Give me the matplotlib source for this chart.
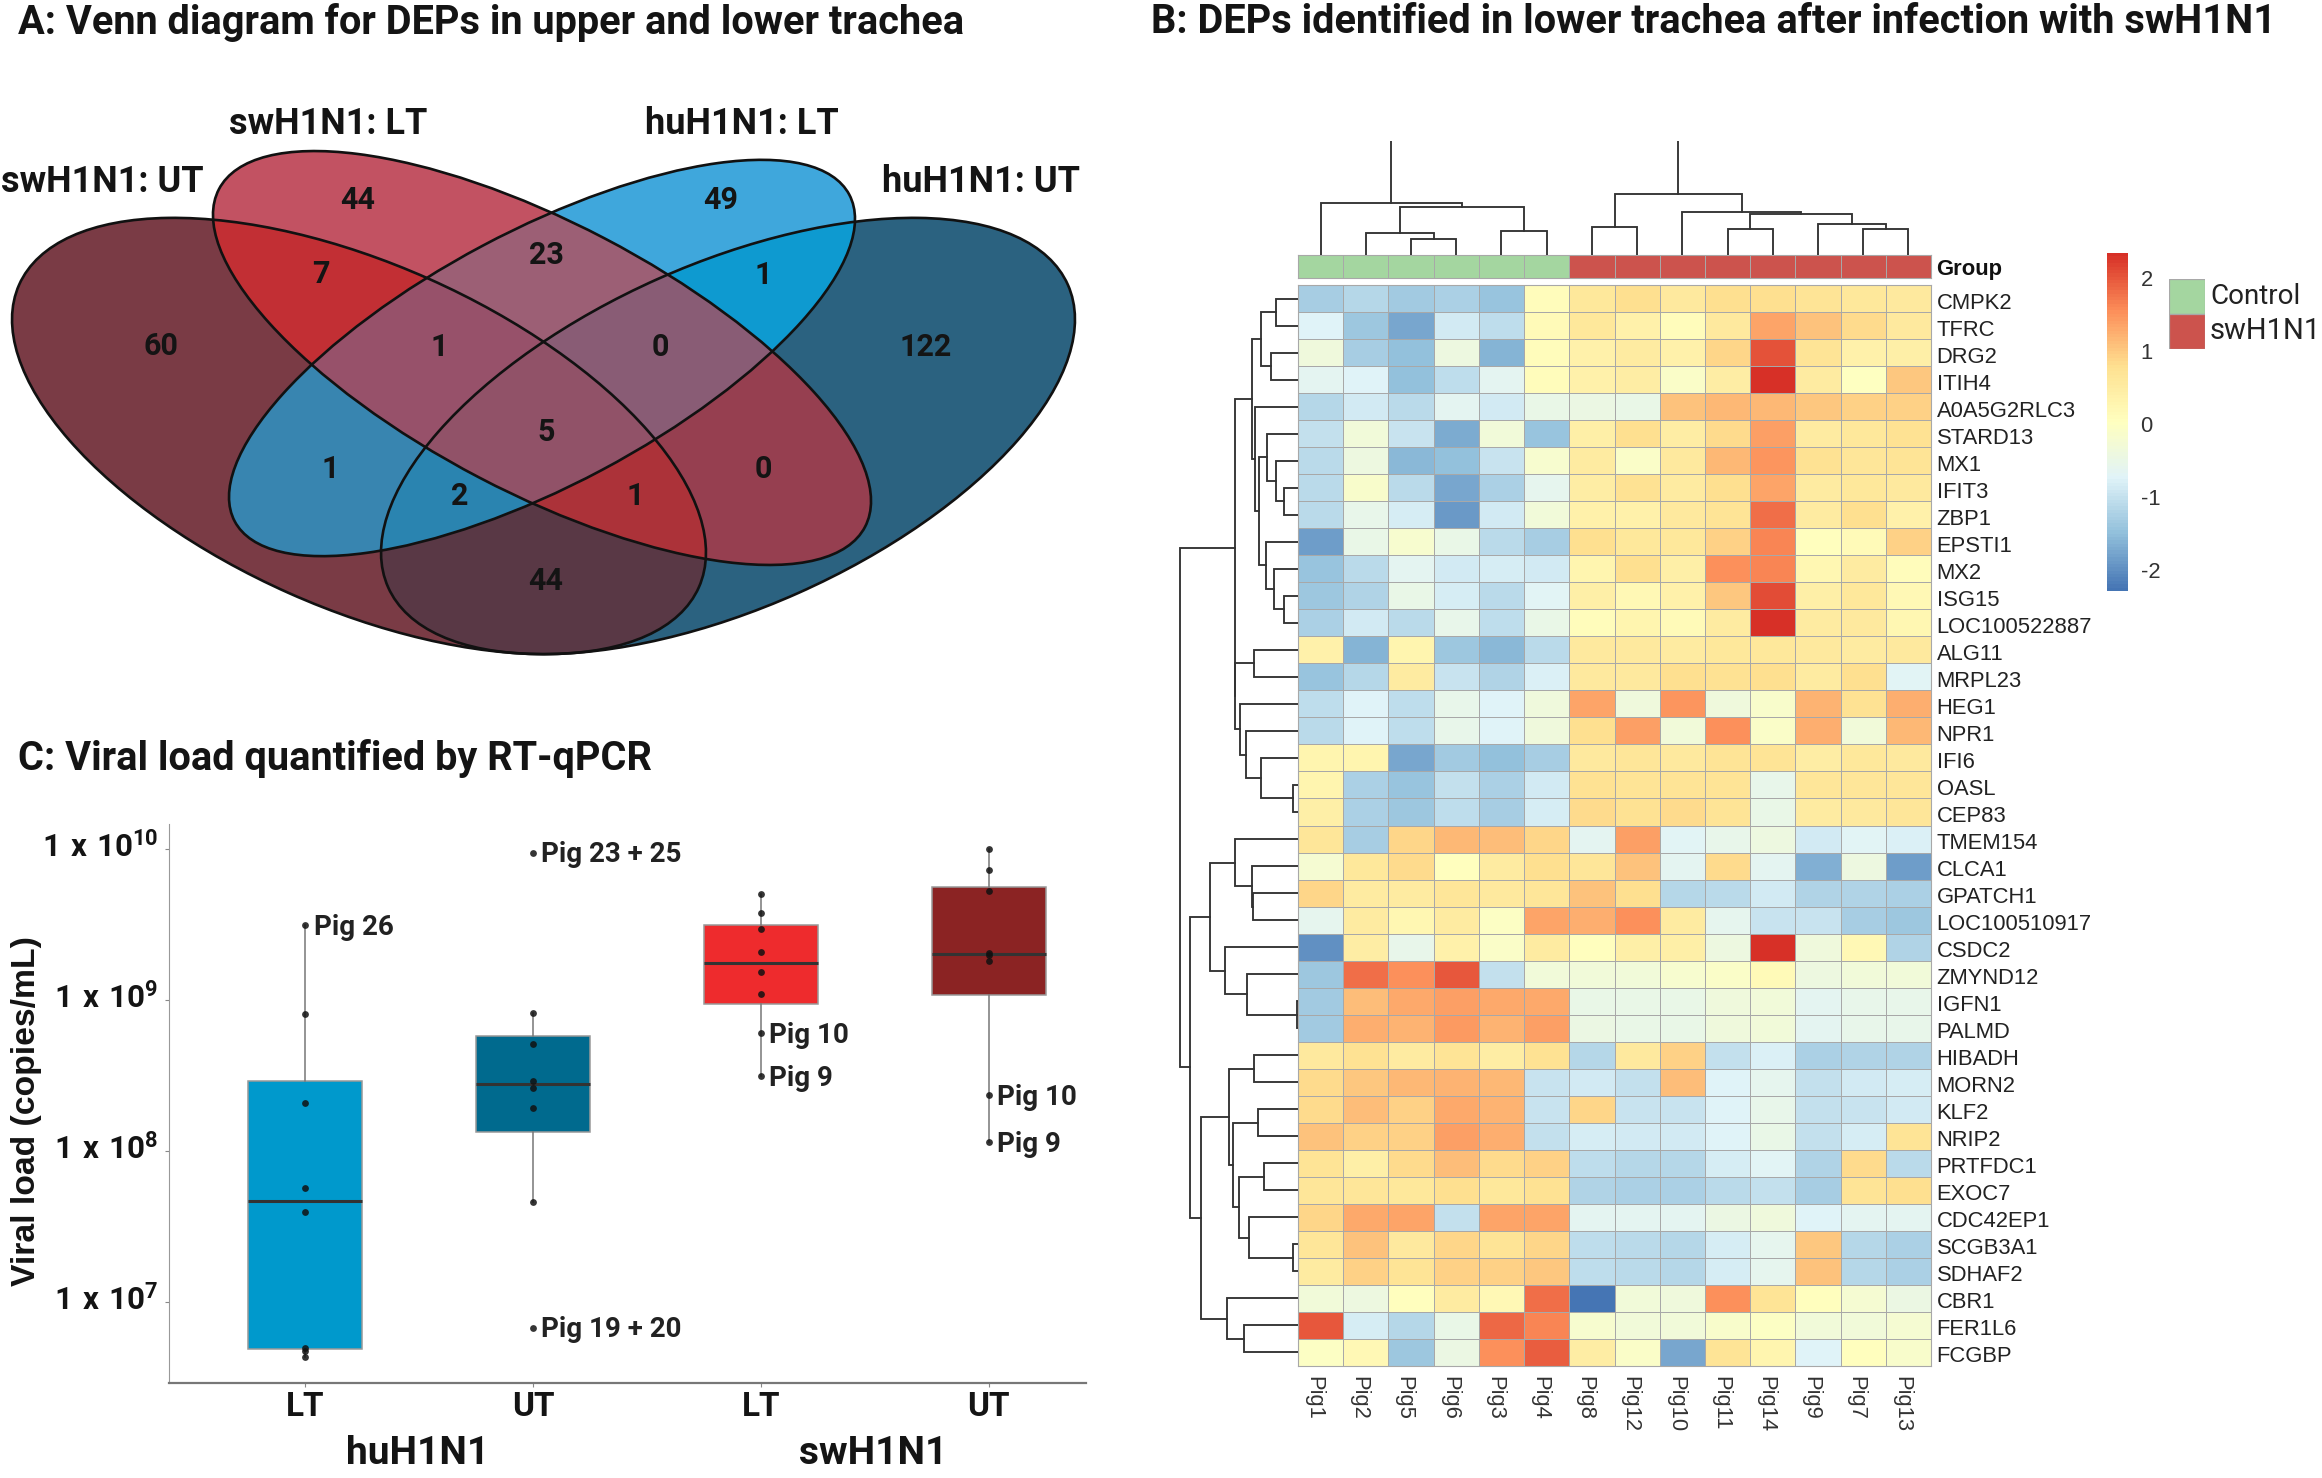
import numpy as np
import matplotlib
matplotlib.use('Agg')
import matplotlib.pyplot as plt
from matplotlib.colors import LinearSegmentedColormap, to_rgb
from matplotlib.patches import Ellipse, Rectangle
from matplotlib.transforms import ScaledTranslation

W, H = 2322, 1478
plt.rcParams['font.family'] = ['Roboto', 'DejaVu Sans']
plt.rcParams['mathtext.default'] = 'regular'

# ---- panel A data
set_names = ['swH1N1: UT', 'swH1N1: LT', 'huH1N1: LT', 'huH1N1: UT']
# membership (swUT, swLT, huLT, huUT) -> count
venn_counts = {
    (1, 0, 0, 0): 60, (0, 1, 0, 0): 44, (0, 0, 1, 0): 49, (0, 0, 0, 1): 122,
    (1, 1, 0, 0): 7, (0, 1, 1, 0): 23, (0, 0, 1, 1): 1, (1, 1, 1, 0): 1,
    (0, 1, 1, 1): 0, (1, 1, 1, 1): 5, (1, 0, 1, 0): 1, (0, 1, 0, 1): 0,
    (1, 0, 1, 1): 2, (1, 1, 0, 1): 1, (1, 0, 0, 1): 44,
}
venn_colors = {
    (1, 0, 0, 0): '#7a3b45', (0, 1, 0, 0): '#c25262', (0, 0, 1, 0): '#3fa7dc',
    (0, 0, 0, 1): '#2b6280', (1, 1, 0, 0): '#c22f34', (0, 1, 1, 0): '#9c5f75',
    (0, 0, 1, 1): '#0e9ad0', (1, 1, 1, 0): '#97516a', (0, 1, 1, 1): '#895c75',
    (1, 1, 1, 1): '#915268', (1, 0, 1, 0): '#3885b0', (0, 1, 0, 1): '#963f50',
    (1, 0, 1, 1): '#2a84b0', (1, 1, 0, 1): '#ac3239', (1, 0, 0, 1): '#593845',
}
venn_label_pos = {
    (1, 0, 0, 0): (161, 346), (0, 1, 0, 0): (358, 200), (0, 0, 1, 0): (721, 200),
    (0, 0, 0, 1): (926, 347), (1, 1, 0, 0): (321, 274), (0, 1, 1, 0): (546, 255),
    (0, 0, 1, 1): (763, 275), (1, 1, 1, 0): (439, 347), (0, 1, 1, 1): (660, 347),
    (1, 1, 1, 1): (546, 432), (1, 0, 1, 0): (330, 469), (0, 1, 0, 1): (763, 469),
    (1, 0, 1, 1): (460, 496), (1, 1, 0, 1): (635, 496), (1, 0, 0, 1): (546, 581),
}

# ---- panel B data
genes = ['CMPK2', 'TFRC', 'DRG2', 'ITIH4', 'A0A5G2RLC3', 'STARD13', 'MX1', 'IFIT3', 'ZBP1', 'EPSTI1',
         'MX2', 'ISG15', 'LOC100522887', 'ALG11', 'MRPL23', 'HEG1', 'NPR1', 'IFI6', 'OASL', 'CEP83',
         'TMEM154', 'CLCA1', 'GPATCH1', 'LOC100510917', 'CSDC2', 'ZMYND12', 'IGFN1', 'PALMD', 'HIBADH', 'MORN2',
         'KLF2', 'NRIP2', 'PRTFDC1', 'EXOC7', 'CDC42EP1', 'SCGB3A1', 'SDHAF2', 'CBR1', 'FER1L6', 'FCGBP']
pigs = ['Pig1', 'Pig2', 'Pig5', 'Pig6', 'Pig3', 'Pig4', 'Pig8', 'Pig12', 'Pig10', 'Pig11', 'Pig14', 'Pig9', 'Pig7', 'Pig13']
n_control = 6
heat = [
    [-1.3, -1.15, -1.35, -1.25, -1.45, 0.1, 0.6, 0.8, 0.55, 0.8, 0.8, 0.7, 0.6, 0.55],
    [-0.75, -1.4, -1.75, -0.9, -1.05, 0.12, 0.6, 0.35, 0.08, 0.55, 1.35, 1.05, 0.85, 0.55],
    [-0.35, -1.3, -1.5, -0.4, -1.6, 0.08, 0.35, 0.5, 0.35, 0.9, 2.05, 0.7, 0.35, 0.4],
    [-0.65, -0.75, -1.5, -1.05, -0.65, 0.08, 0.35, 0.45, -0.1, 0.45, 2.3, 0.5, -0.02, 1.0],
    [-1.15, -0.9, -1.1, -0.65, -0.9, -0.5, -0.45, -0.5, 1.05, 1.15, 1.15, 1.0, 0.95, 0.95],
    [-1.0, -0.3, -0.95, -1.7, -0.3, -1.45, 0.4, 0.8, 0.45, 0.85, 1.4, 0.5, 0.6, 0.75],
    [-1.1, -0.4, -1.55, -1.5, -0.95, -0.2, 0.5, -0.08, 0.55, 1.15, 1.5, 0.75, 0.65, 0.7],
    [-1.1, -0.15, -1.1, -1.75, -1.25, -0.6, 0.45, 0.75, 0.5, 0.8, 1.35, 0.5, 0.6, 0.55],
    [-1.1, -0.55, -0.85, -1.9, -0.9, -0.3, 0.35, 0.35, 0.55, 0.7, 1.8, 0.5, 0.8, 0.35],
    [-1.85, -0.5, -0.2, -0.5, -1.1, -1.3, 0.8, 0.6, 0.6, 0.95, 1.6, 0.05, 0.15, 0.95],
    [-1.45, -1.1, -0.65, -0.9, -0.85, -0.9, 0.3, 0.8, 0.4, 1.55, 1.6, 0.25, 0.5, 0.1],
    [-1.4, -1.2, -0.5, -0.85, -1.1, -0.7, 0.4, 0.2, 0.35, 1.0, 2.1, 0.4, 0.6, 0.2],
    [-1.25, -0.9, -1.1, -0.55, -1.05, -0.5, 0.1, 0.3, 0.15, 0.5, 2.34, 0.5, 0.55, 0.25],
    [0.35, -1.6, 0.3, -1.4, -1.55, -1.1, 0.55, 0.55, 0.5, 0.6, 0.6, 0.55, 0.5, 0.55],
    [-1.45, -1.15, 0.5, -0.95, -1.2, -0.8, 0.55, 0.55, 0.8, 0.75, 0.8, 0.5, 0.8, -0.7],
    [-1.05, -0.75, -1.05, -0.55, -0.75, -0.35, 1.35, -0.35, 1.5, -0.35, -0.15, 1.2, 0.75, 1.25],
    [-1.1, -0.75, -1.05, -0.55, -0.75, -0.35, 0.8, 1.4, -0.3, 1.55, -0.1, 1.25, -0.3, 1.15],
    [0.3, 0.3, -1.75, -1.35, -1.5, -1.3, 0.55, 0.65, 0.55, 0.7, 0.7, 0.45, 0.6, 0.55],
    [0.3, -1.25, -1.45, -1.0, -1.25, -0.9, 0.75, 0.7, 0.7, 0.7, -0.55, 0.65, 0.65, 0.65],
    [0.4, -1.25, -1.4, -1.05, -1.3, -0.85, 0.85, 0.75, 0.85, 0.7, -0.5, 0.5, 0.55, 0.65],
    [0.65, -1.3, 0.9, 1.15, 1.1, 0.9, -0.65, 1.4, -0.7, -0.55, -0.4, -0.9, -0.7, -0.8],
    [-0.25, 0.6, 0.85, 0.05, 0.5, 0.8, 0.65, 1.05, -0.65, 0.85, -0.65, -1.65, -0.4, -1.85],
    [0.9, 0.5, 0.5, 0.65, 0.55, 0.65, 1.05, 0.8, -1.15, -1.1, -0.9, -1.2, -1.2, -1.25],
    [-0.6, 0.5, 0.25, 0.5, -0.05, 1.35, 1.25, 1.55, 0.5, -0.6, -0.95, -0.95, -1.3, -1.4],
    [-2.0, 0.45, -0.55, 0.35, -0.1, 0.5, 0.05, 0.4, 0.4, -0.4, 2.34, -0.35, 0.2, -1.2],
    [-1.4, 1.8, 1.55, 2.0, -1.0, -0.3, -0.3, -0.3, -0.2, -0.1, 0.15, -0.4, -0.3, -0.3],
    [-1.35, 1.1, 1.3, 1.4, 1.3, 1.3, -0.5, -0.5, -0.5, -0.35, -0.3, -0.65, -0.55, -0.55],
    [-1.35, 1.25, 1.2, 1.45, 1.2, 1.4, -0.45, -0.5, -0.5, -0.35, -0.3, -0.65, -0.55, -0.55],
    [0.55, 0.75, 0.5, 0.7, 0.45, 0.75, -1.15, 0.55, 0.95, -1.0, -0.8, -1.25, -1.2, -1.2],
    [0.85, 1.0, 1.15, 1.2, 1.15, -0.95, -0.9, -1.0, 1.1, -0.75, -0.6, -1.0, -0.9, -0.85],
    [0.85, 1.1, 0.95, 1.3, 1.2, -0.95, 0.9, -0.95, -0.95, -0.75, -0.55, -1.0, -0.95, -0.9],
    [1.05, 0.95, 0.95, 1.4, 1.25, -1.0, -0.85, -0.9, -0.9, -0.75, -0.5, -1.0, -0.85, 0.7],
    [0.7, 0.4, 0.85, 1.1, 0.85, 0.95, -1.05, -1.15, -1.15, -0.85, -0.7, -1.2, 0.85, -1.1],
    [0.65, 0.65, 0.6, 0.8, 0.6, 0.75, -1.2, -1.25, -1.25, -1.1, -1.0, -1.3, 0.7, 0.8],
    [0.9, 1.3, 1.35, -1.0, 1.35, 1.35, -0.65, -0.65, -0.65, -0.45, -0.35, -0.75, -0.65, -0.65],
    [0.65, 1.05, 0.55, 0.9, 0.7, 0.9, -1.05, -1.1, -1.15, -0.85, -0.6, 1.0, -1.15, -1.25],
    [0.5, 0.95, 0.7, 0.95, 0.95, 1.0, -1.05, -1.1, -1.15, -0.85, -0.6, 1.05, -1.15, -1.25],
    [-0.3, -0.4, 0.05, 0.5, 0.2, 1.8, -2.29, -0.3, -0.35, 1.55, 0.7, 0.05, -0.25, -0.45],
    [2.0, -0.85, -1.15, -0.5, 1.85, 1.6, -0.2, -0.3, -0.3, -0.15, -0.05, -0.3, -0.3, -0.25],
    [-0.05, 0.2, -1.4, -0.45, 1.55, 1.95, 0.45, -0.1, -1.75, 0.7, 0.3, -0.75, 0.05, -0.15],
]
# dendrograms as nested (height, left, right), a leaf is a row/column index
col_tree_left = (155, 0, (143, (65, 1, (49, 2, 3)), (73, 4, 5)))
col_tree_right = (183, (85, 6, 7), (130, 8, (122, (77, 9, 10), (93, 11, (77, 12, 13)))))
col_tree_top = 343
row_tree_a = (123,
              (89, (73, (43, 0, 1), (52, 2, 3)),
               (84, 4, (76, (60, 5, (43, 6, (28, 7, 8))), (62, 9, (47, 10, (28, 11, 12)))))),
              (122, (86, 13, 14), (114, 15, (101, 16, (73, 17, (9, 18, 19))))))
row_tree_b = (171,
              (123, 20, (89, 21, (88, 22, 23))),
              (142, 24, (100, 25, (1.5, 26, 27))))
row_tree_c = (189,
              (134, (86, 28, 29), (127, (78, 30, 31), (115, (66, 32, 33), (95, 34, (9, 35, 36))))),
              (139, 37, (105, 38, 39)))
row_tree = (230, row_tree_a, (211, row_tree_b, row_tree_c))

# ---- panel C data (copies/mL)
box_labels = ['LT', 'UT', 'LT', 'UT']
box_colors = ['#0099cc', '#006a8e', '#ee2b2d', '#8b2323']
box_q1 = [4.9e6, 1.34e8, 9.46e8, 1.08e9]
box_med = [4.7e7, 2.77e8, 1.78e9, 2.02e9]
box_q3 = [2.93e8, 5.78e8, 3.15e9, 5.62e9]
box_lo = [4.3e6, 4.6e7, 3.13e8, 1.15e8]
box_hi = [3.15e9, 8.3e8, 5.08e9, 1.0e10]
points = [
    [3.15e9, 8.1e8, 2.1e8, 5.67e7, 3.98e7, 4.99e6, 4.76e6, 4.3e6],
    [9.5e9, 8.3e8, 5.13e8, 2.91e8, 2.62e8, 1.93e8, 4.6e7, 6.75e6],
    [5.08e9, 3.81e9, 2.98e9, 2.08e9, 1.55e9, 1.1e9, 6.08e8, 3.13e8],
    [1.0e10, 7.35e9, 5.27e9, 2.05e9, 1.99e9, 1.81e9, 2.35e8, 1.15e8],
]
pig_notes = [(0, 3.15e9, 'Pig 26'), (1, 9.5e9, 'Pig 23 + 25'), (1, 6.75e6, 'Pig 19 + 20'),
             (2, 6.08e8, 'Pig 10'), (2, 3.13e8, 'Pig 9'), (3, 2.35e8, 'Pig 10'), (3, 1.15e8, 'Pig 9')]
y_ticks = [1e7, 1e8, 1e9, 1e10]
y_tick_labels = ['$1\\ x\\ 10^{7}$', '$1\\ x\\ 10^{8}$', '$1\\ x\\ 10^{9}$', '$1\\ x\\ 10^{10}$']


def px_axes(x0, y0, x1, y1):
    # axes placed by reference pixels, y counted from the top
    return fig.add_axes([x0 / W, 1 - y1 / H, (x1 - x0) / W, (y1 - y0) / H])


def px_text(x, y, s, **kw):
    kw.setdefault('va', 'center')
    return fig.text(x / W, 1 - y / H, s, **kw)


def shift(labels, dx, dy):
    # nudge tick labels by pixels, dy is upward
    off = ScaledTranslation(dx / 100, dy / 100, fig.dpi_scale_trans)
    for t in labels:
        t.set_transform(t.get_transform() + off)


def draw_tree(ax, node, horizontal=False):
    # returns (position along leaves, height) of the node
    if not isinstance(node, tuple):
        return node + 0.5, 0
    h, left, right = node
    p1, h1 = draw_tree(ax, left, horizontal)
    p2, h2 = draw_tree(ax, right, horizontal)
    a, b = [p1, p1, p2, p2], [h1, h, h, h2]
    if horizontal:
        ax.plot(b, a, color='#333333', lw=1.35, solid_joinstyle='miter')
    else:
        ax.plot(a, b, color='#333333', lw=1.35, solid_joinstyle='miter')
    return (p1 + p2) / 2, h


fig = plt.figure(figsize=(W / 100, H / 100), dpi=100)
title_font = dict(fontsize=28.6, fontweight='bold', color='#141414')
px_text(18, 23, 'A: Venn diagram for DEPs in upper and lower trachea', **title_font)
px_text(1151, 22, 'B: DEPs identified in lower trachea after infection with swH1N1', **title_font)
px_text(18, 759, 'C: Viral load quantified by RT-qPCR', **title_font)

# ---- A: venn, regions painted by membership of the four ellipses
ax = px_axes(0, 130, 1100, 680)
ax.set_xlim(0, 1100)
ax.set_ylim(680, 130)
ax.axis('off')
ellipses = [
    Ellipse((359, 436), 744, 344, angle=24),
    Ellipse((542, 358), 729, 270, angle=27.6),
    Ellipse((542, 358), 696, 254, angle=-28),
    Ellipse((728, 436), 744, 344, angle=-24),
]
gx, gy = np.meshgrid(np.arange(0, 1100) + 0.5, np.arange(130, 680) + 0.5)
grid = np.column_stack([gx.ravel(), gy.ravel()])
member = [e.get_path().contains_points(grid, transform=e.get_patch_transform()).reshape(gx.shape) for e in ellipses]
img = np.ones(gx.shape + (3,))
for key, c in venn_colors.items():
    mask = np.ones(gx.shape, dtype=bool)
    for m, k in zip(member, key):
        mask &= (m if k else ~m)
    img[mask] = to_rgb(c)
ax.imshow(img, extent=(0, 1100, 680, 130), aspect='auto', interpolation='bilinear')
for e in ellipses:
    e.set(fill=False, edgecolor='#111111', linewidth=1.9)
    ax.add_patch(e)
for key, n in venn_counts.items():
    x, y = venn_label_pos[key]
    ax.text(x, y, str(n), ha='center', va='center', fontsize=22, fontweight='bold', color='#141414')
for name, (x, y) in zip(set_names, [(102, 182), (328, 124), (742, 124), (981, 182)]):
    px_text(x, y, name, ha='center', fontsize=26, fontweight='bold', color='#141414')

# ---- B: heatmap
hm_left, hm_right, hm_top, hm_bottom = 1298, 1931, 285, 1366
cmap = LinearSegmentedColormap.from_list(
    'rdylbu', ['#4575b4', '#91bfdb', '#e0f3f8', '#ffffbf', '#fee090', '#fc8d59', '#d73027'], N=100)
ax = px_axes(hm_left, hm_top, hm_right, hm_bottom)
mesh = ax.pcolormesh(np.array(heat), cmap=cmap, vmin=-2.29, vmax=2.34, edgecolors='#a8a8a8', linewidth=0.7)
ax.set_xlim(0, len(pigs))
ax.set_ylim(len(genes), 0)
for s in ax.spines.values():
    s.set_color('#a8a8a8')
    s.set_linewidth(0.8)
ax.set_xticks(np.arange(len(pigs)) + 0.5)
ax.set_xticklabels(pigs, rotation=-90, family='Liberation Sans', fontsize=15.8, color='#333333')
ax.set_yticks(np.arange(len(genes)) + 0.5)
ax.set_yticklabels(genes, family='Liberation Sans', fontsize=15.8, color='#222222')
ax.yaxis.tick_right()
ax.tick_params(length=0, pad=4)
ax.tick_params(axis='x', pad=7)
shift(ax.get_xticklabels(), -7, 0)
shift(ax.get_yticklabels(), 0, -2)

# group bar
ax = px_axes(hm_left, 255, hm_right, 278)
group = [0] * n_control + [1] * (len(pigs) - n_control)
group_cmap = LinearSegmentedColormap.from_list('grp', ['#a4d6a0', '#cc534d'], N=2)
ax.pcolormesh(np.array([group]), cmap=group_cmap, edgecolors='#a8a8a8', linewidth=0.7)
ax.set_xticks([])
ax.set_yticks([])
for s in ax.spines.values():
    s.set_color('#a8a8a8')
    s.set_linewidth(0.8)
px_text(1936, 269, 'Group', family='Liberation Sans', fontweight='bold', fontsize=15.8, color='#111111')

# dendrograms
ax = px_axes(hm_left, 141, hm_right, 255)
ax.set_xlim(0, len(pigs))
ax.set_ylim(0, col_tree_top)
ax.axis('off')
for tree in (col_tree_left, col_tree_right):
    p, h = draw_tree(ax, tree)
    ax.plot([p, p], [h, col_tree_top], color='#333333', lw=1.35)

ax = px_axes(1178, hm_top, hm_left, hm_bottom)
ax.set_xlim(234, 0)
ax.set_ylim(len(genes), 0)
ax.axis('off')
draw_tree(ax, row_tree, horizontal=True)

# colorbar and legend
cax = px_axes(2107, 253, 2128, 591)
cb = fig.colorbar(mesh, cax=cax)
cb.set_ticks([-2, -1, 0, 1, 2])
cb.set_ticklabels(['-2', '-1', '0', '1', '2'])
cb.outline.set_visible(False)
cax.tick_params(length=0, pad=9, labelsize=15.8, labelcolor='#333333')
for t in cax.get_yticklabels():
    t.set_family('Liberation Sans')

ax = px_axes(2169, 279, 2205, 349)
ax.set_xlim(0, 1)
ax.set_ylim(2, 0)
ax.axis('off')
ax.add_patch(Rectangle((0, 0), 1, 1, facecolor='#a4d6a0', edgecolor='#a8a8a8', lw=0.9))
ax.add_patch(Rectangle((0, 1), 1, 1, facecolor='#cc534d', edgecolor='#a8a8a8', lw=0.9))
px_text(2210, 296, 'Control', fontsize=20, color='#222222')
px_text(2210, 331, 'swH1N1', fontsize=21, color='#222222')

# ---- C: boxes
ax = px_axes(169, 824, 1086, 1383)
stats = [dict(q1=a, med=b, q3=c, whislo=d, whishi=e, fliers=[])
         for a, b, c, d, e in zip(box_q1, box_med, box_q3, box_lo, box_hi)]
x_pos = np.arange(4)
parts = ax.bxp(stats, positions=x_pos, widths=0.5, patch_artist=True, showcaps=False, showfliers=False,
               whiskerprops=dict(color='#777777', lw=1.1),
               medianprops=dict(color='#333333', lw=2.2, solid_capstyle='butt'),
               boxprops=dict(edgecolor='#999999', lw=1.1))
for patch, c in zip(parts['boxes'], box_colors):
    patch.set_facecolor(c)
for i, vals in enumerate(points):
    ax.scatter([i] * len(vals), vals, s=24, color='#111111', alpha=0.85, zorder=5, linewidths=0)
for i, v, s in pig_notes:
    ax.annotate(s, (i, v), xytext=(6, -1.5), textcoords='offset points', va='center',
                fontsize=20, fontweight='bold', color='#222222')
ax.set_yscale('log')
ax.set_ylim(10 ** 6.464, 10 ** 10.169)
ax.set_xlim(-0.598, 3.427)
ax.set_yticks(y_ticks)
ax.set_yticklabels(y_tick_labels, fontsize=22.5, fontweight='bold', color='#141414')
ax.minorticks_off()
ax.set_xticks(x_pos)
ax.set_xticklabels(box_labels, fontsize=24, fontweight='bold', color='#141414')
ax.tick_params(axis='y', length=3, width=0.8, color='#888888', pad=5)
ax.tick_params(axis='x', length=3, width=0.8, color='#888888', pad=3)
shift(ax.get_yticklabels(), 0, 5)
ax.spines['top'].set_visible(False)
ax.spines['right'].set_visible(False)
ax.spines['left'].set_color('#999999')
ax.spines['left'].set_linewidth(0.8)
ax.spines['bottom'].set_color('#777777')
ax.spines['bottom'].set_linewidth(1.6)
px_text(27, 1111, 'Viral load (copies/mL)', rotation=90, ha='center', family='Liberation Sans',
        fontweight='bold', fontsize=24.3, color='#141414')
# kept a little higher than the reference so the descender box stays inside the figure
px_text(418, 1454, 'huH1N1', ha='center', fontsize=28, fontweight='bold', color='#141414')
px_text(873, 1454, 'swH1N1', ha='center', fontsize=28, fontweight='bold', color='#141414')

fig.savefig('out.png', dpi=100)
